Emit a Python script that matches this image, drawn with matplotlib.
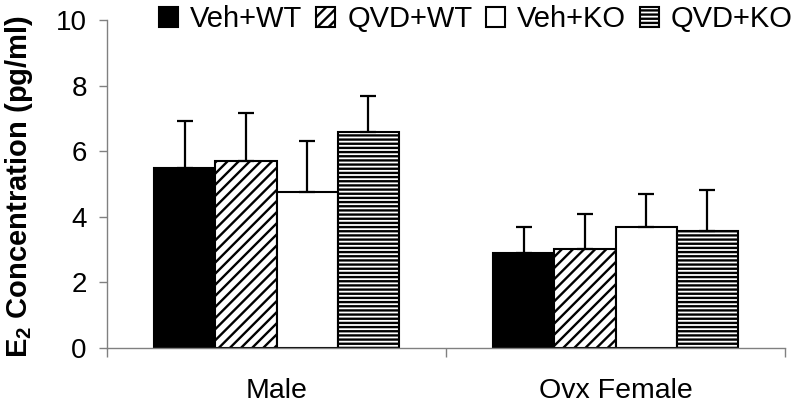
import matplotlib as mpl

mpl.use("Agg")

import matplotlib.pyplot as plt
import numpy as np


CATEGORIES = ["Male", "Ovx Female"]
GROUPS = ["Veh+WT", "QVD+WT", "Veh+KO", "QVD+KO"]
MEANS = {
    "Veh+WT": [5.48, 2.90],
    "QVD+WT": [5.71, 3.02],
    "Veh+KO": [4.75, 3.67],
    "QVD+KO": [6.58, 3.57],
}
ERRORS = {
    "Veh+WT": [1.43, 0.78],
    "QVD+WT": [1.45, 1.07],
    "Veh+KO": [1.57, 1.02],
    "QVD+KO": [1.11, 1.23],
}
Y_TICKS = [0, 2, 4, 6, 8, 10]

STYLES = {
    "Veh+WT": dict(color="black", hatch=None),
    "QVD+WT": dict(color="white", hatch="///"),
    "Veh+KO": dict(color="white", hatch=None),
    "QVD+KO": dict(color="white", hatch="----"),
}


def configure_matplotlib() -> None:
    mpl.rcParams.update(
        {
            "font.family": ["Liberation Sans", "DejaVu Sans"],
            "mathtext.fontset": "custom",
            "mathtext.rm": "Liberation Sans",
            "mathtext.bf": "Liberation Sans:bold",
            "hatch.linewidth": 1.7,
            "hatch.color": "black",
        }
    )


def main() -> None:
    configure_matplotlib()
    fig = plt.figure(figsize=(8.0, 4.07), dpi=100)
    ax = fig.add_axes([0.13375, 0.1457, 0.8475, 0.8052])

    x = np.arange(len(CATEGORIES))
    width = 0.18
    offsets = (np.arange(len(GROUPS)) - (len(GROUPS) - 1) / 2) * width

    handles = []
    for off, name in zip(offsets, GROUPS):
        style = STYLES[name]
        errs = ERRORS[name]
        bars = ax.bar(
            x + off,
            MEANS[name],
            width,
            color=style["color"],
            edgecolor="black",
            linewidth=1.5,
            hatch=style["hatch"],
            label=name,
            zorder=2,
            yerr=[np.zeros(len(errs)), errs],
            error_kw=dict(ecolor="black", elinewidth=1.6, capsize=6, capthick=1.6, zorder=3),
        )
        handles.append(bars)

    ax.set_xlim(-0.5, len(CATEGORIES) - 0.5)
    ax.set_ylim(0, 10)
    ax.set_yticks(Y_TICKS)
    ax.set_yticklabels([str(t) for t in Y_TICKS], fontsize=20)
    ax.set_xticks(x)
    ax.set_xticklabels(CATEGORIES, fontsize=20.5)
    ax.set_xticks(np.arange(len(CATEGORIES) + 1) - 0.5, minor=True)
    ax.tick_params(axis="x", which="major", length=0, pad=22)
    ax.tick_params(axis="x", which="minor", length=6.5, width=1.0, color="#808080")
    ax.tick_params(axis="y", length=5.5, width=1.0, color="#808080", pad=9)

    for side in ("top", "right"):
        ax.spines[side].set_visible(False)
    for side in ("left", "bottom"):
        ax.spines[side].set_color("#808080")
        ax.spines[side].set_linewidth(1.0)

    fig.text(
        0.024,
        0.543,
        r"E$_{\mathbf{2}}$ Concentration (pg/ml)",
        rotation=90,
        ha="center",
        va="center",
        fontsize=21,
        fontweight="bold",
    )

    fig.legend(
        handles=handles,
        labels=GROUPS,
        loc="center",
        bbox_to_anchor=(476 / 800, 1 - 19 / 407),
        ncol=4,
        frameon=False,
        fontsize=21,
        handlelength=0.65,
        handleheight=0.7,
        handletextpad=0.41,
        columnspacing=0.48,
        borderpad=0,
    )

    fig.savefig("out.png", dpi=100)
    plt.close(fig)


if __name__ == "__main__":
    main()
